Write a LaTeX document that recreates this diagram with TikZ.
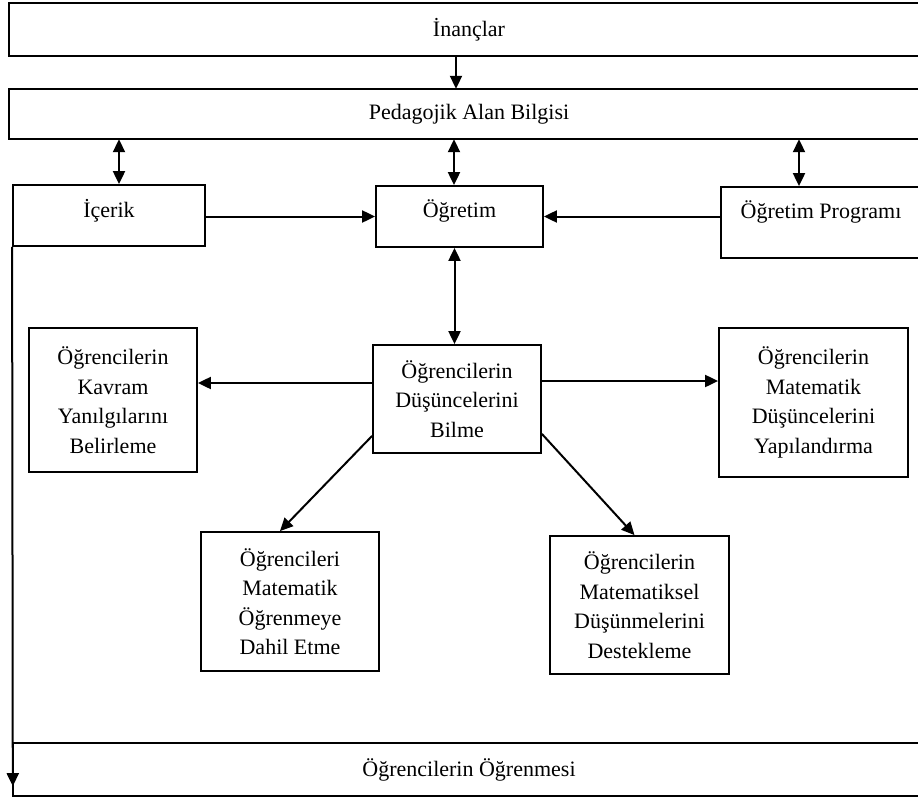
\documentclass[tikz,border=0pt]{standalone}
\usepackage{fontspec}
\setmainfont{Liberation Serif}
\usetikzlibrary{arrows.meta, positioning, calc}

\begin{document}
\begin{tikzpicture}[x=1pt, y=-1pt,
    box/.style={rectangle, draw=black, line width=1.8pt, align=center, inner sep=2pt,
                font=\fontsize{22}{29.5}\selectfont},
    band/.style={rectangle, draw=none, inner sep=0pt, font=\fontsize{22}{29.5}\selectfont},
    lift/.style={text height=15pt, text depth=#1},
    link/.style={-{Triangle[length=13pt,width=12pt]}, line width=2pt},
    twoway/.style={{Triangle[length=13pt,width=12pt]}-{Triangle[length=13pt,width=12pt]}, line width=2pt}
]
    \useasboundingbox (0,0) rectangle (918,798);
    \clip (0,0) rectangle (918,798);

    % Wide bands (open to the right)
    \node[band, minimum width=920pt, minimum height=53pt] (beliefs) at (469,29.5) {İnançlar};
    \node[band, minimum width=920pt, minimum height=50pt] (pck) at (469,114) {Pedagojik Alan Bilgisi};
    \node[band, minimum width=912pt, minimum height=53pt] (learning) at (469,769.5) {Öğrencilerin Öğrenmesi};
    \foreach \b in {beliefs, pck, learning}
        \draw[line width=1.8pt] (\b.north east) -- (\b.north west) -- (\b.south west) -- (\b.south east);

    % Middle row
    \node[box, lift=11pt, minimum width=192pt, minimum height=61pt] (content) at (109,215.5) {İçerik};
    \node[box, lift=13pt, minimum width=167pt, minimum height=61pt] (teaching) at (459.5,216.5) {Öğretim};
    \node[box, lift=23pt, minimum width=200pt, minimum height=71pt] (program) at (821,222.5) {Öğretim Programı};

    % Student boxes
    \node[box, minimum width=168pt, minimum height=144pt] (misconc) at (113,400)
        {Öğrencilerin\\Kavram\\Yanılgılarını\\Belirleme};
    \node[box, minimum width=168pt, minimum height=108pt] (knowing) at (457,399)
        {Öğrencilerin\\Düşüncelerini\\Bilme};
    \node[box, minimum width=189pt, minimum height=149pt] (structure) at (813.5,402.5)
        {Öğrencilerin\\Matematik\\Düşüncelerini\\Yapılandırma};
    \node[box, minimum width=178pt, minimum height=139pt] (engage) at (290,601.5)
        {Öğrencileri\\Matematik\\Öğrenmeye\\Dahil Etme};
    \node[box, minimum width=179pt, minimum height=138pt] (support) at (639.5,605)
        {Öğrencilerin\\Matematiksel\\Düşünmelerini\\Destekleme};

    % Arrows
    \draw[link] ([xshift=-13pt]beliefs.south) -- ([xshift=-13pt]pck.north);
    \draw[twoway] ([xshift=10pt]content.north |- pck.south) -- ([xshift=10pt]content.north);
    \draw[twoway] ([xshift=-5.5pt]teaching.north |- pck.south) -- ([xshift=-5.5pt]teaching.north);
    \draw[twoway] ([xshift=-22pt]program.north |- pck.south) -- ([xshift=-22pt]program.north);
    \draw[link] (content.east |- teaching.west) -- (teaching.west);
    \draw[link] (program.west |- teaching.east) -- (teaching.east);
    \draw[twoway] ([xshift=-5pt]teaching.south) -- ([xshift=-5pt]teaching.south |- knowing.north);
    \draw[link] ([yshift=16pt]knowing.west) -- ([yshift=16pt]knowing.west -| misconc.east);
    \draw[link] ([yshift=18pt]knowing.east) -- ([yshift=18pt]knowing.east -| structure.west);
    \draw[link] ([yshift=18pt]knowing.south west) -- ([xshift=-10pt]engage.north);
    \draw[link] ([yshift=20pt]knowing.south east) -- ([xshift=-5pt]support.north);
    \draw[link] (content.south west) -- ([yshift=10pt]learning.south west);
\end{tikzpicture}
\end{document}
